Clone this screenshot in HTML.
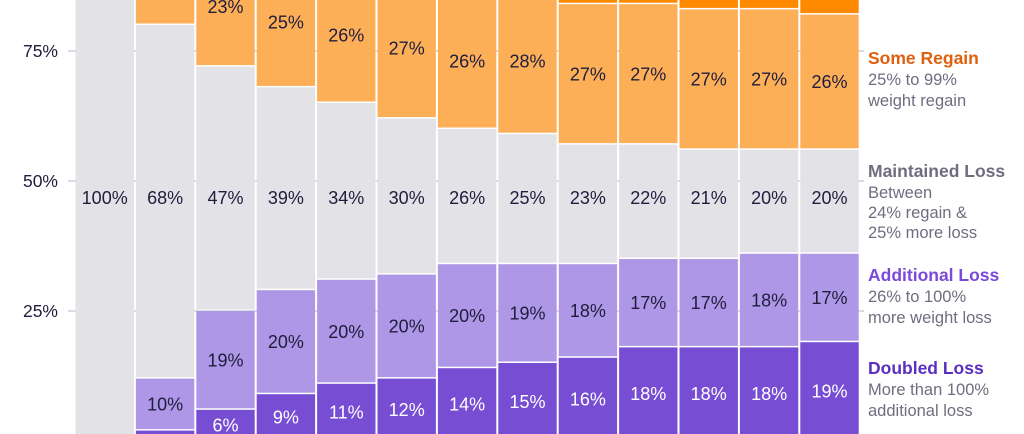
<!DOCTYPE html>
<html><head><meta charset="utf-8"><style>
html,body{margin:0;padding:0;background:#fff;}
svg{display:block;font-family:"Liberation Sans",sans-serif;}
</style></head><body>
<svg id="chart" width="1024" height="434" viewBox="0 0 1024 434" xmlns="http://www.w3.org/2000/svg">
<g id="grid"></g>
<g id="bars"></g>
<g id="labels"></g>
<g id="yaxis"></g>
<g font-size="16.5">
  <text x="868" y="64" fill="#e0600e" font-weight="bold" font-size="17.5">Some Regain</text>
  <text fill="#6e6e80"><tspan x="868" y="85">25% to 99%</tspan><tspan x="868" y="106">weight regain</tspan></text>
  <text x="868" y="177" fill="#6e6e80" font-weight="bold" font-size="17.5">Maintained Loss</text>
  <text fill="#6e6e80"><tspan x="868" y="198">Between</tspan><tspan x="868" y="218">24% regain &amp;</tspan><tspan x="868" y="238">25% more loss</tspan></text>
  <text x="868" y="281" fill="#7a4ad8" font-weight="bold" font-size="17.5">Additional Loss</text>
  <text fill="#6e6e80"><tspan x="868" y="302">26% to 100%</tspan><tspan x="868" y="323">more weight loss</tspan></text>
  <text x="868" y="374" fill="#5a2fc0" font-weight="bold" font-size="17.5">Doubled Loss</text>
  <text fill="#6e6e80"><tspan x="868" y="395">More than 100%</tspan><tspan x="868" y="416">additional loss</tspan></text>
</g>
</svg>
<script>
const categories = ["c1","c2","c3","c4","c5","c6","c7","c8","c9","c10","c11","c12","c13"];
const doubledLoss    = [0, 2, 6, 9, 11, 12, 14, 15, 16, 18, 18, 18, 19];
const additionalLoss = [0, 10, 19, 20, 20, 20, 20, 19, 18, 17, 17, 18, 17];
const maintainedLoss = [100, 68, 47, 39, 34, 30, 26, 25, 23, 22, 21, 20, 20];
const someRegain     = [0, 15, 23, 25, 26, 27, 26, 28, 27, 27, 27, 27, 26];
const fullRegain     = [0, 5, 5, 7, 9, 11, 14, 13, 16, 16, 17, 17, 18];
const yTicks = [0, 25, 50, 75];
const yTickLabels = ["0%", "25%", "50%", "75%"];

const NS = "http://www.w3.org/2000/svg";
const x0 = 75.5, pitch = 60.4, gap = 2;
function yScale(v){ return 441 - v * 5.2; }
function xScale(i){ return x0 + i * pitch; }
function mk(tag, attrs, parent){ const e = document.createElementNS(NS, tag); for (const k in attrs) e.setAttribute(k, attrs[k]); parent.appendChild(e); return e; }

const grid = document.getElementById('grid'), bars = document.getElementById('bars'), labels = document.getElementById('labels'), yaxis = document.getElementById('yaxis');
yTicks.forEach((t, i) => {
  const y = yScale(t);
  const l = mk('line', {x1: 68, x2: 864, y1: y, y2: y, stroke: '#cfcfd6', 'stroke-width': 1.5}, grid);
  
  
  const tx = mk('text', {x: 58, y: y + 6, 'text-anchor': 'end', 'font-size': 17.5, fill: '#1f1d3d'}, yaxis);
  tx.textContent = yTickLabels[i];
  
  
});

const series = [
  {vals: doubledLoss, fill: '#774ed3', text: '#ffffff', name: 'doubled-loss'},
  {vals: additionalLoss, fill: '#ae97e6', text: '#1f1d3d', name: 'additional-loss'},
  {vals: maintainedLoss, fill: '#e3e2e7', text: '#1f1d3d', name: 'maintained-loss', fixedY: 198},
  {vals: someRegain, fill: '#fdaf57', text: '#1f1d3d', name: 'some-regain'},
  {vals: fullRegain, fill: '#ff8a00', text: '#1f1d3d', name: 'full-regain', nolabel: true}
];
categories.forEach((c, i) => {
  let cum = 0;
  const x = xScale(i), w = pitch - gap;
  series.forEach(s => {
    const v = s.vals[i];
    if (v <= 0) { return; }
    const yTop = yScale(cum + v), yBot = yScale(cum);
    const r = mk('rect', {x: x, y: yTop, width: w, height: Math.max(0, yBot - yTop - 1.5), fill: s.fill}, bars);
    
    
    if (!s.nolabel && v >= 3) {
      const ly = s.fixedY ? s.fixedY + 6 : (yTop + yBot) / 2 + 6;
      const t = mk('text', {x: x + w / 2, y: ly, 'text-anchor': 'middle', 'font-size': 18, fill: s.text}, labels);
      t.textContent = v + '%';
      
      
    }
    cum += v;
  });
});
</script>
</body></html>
